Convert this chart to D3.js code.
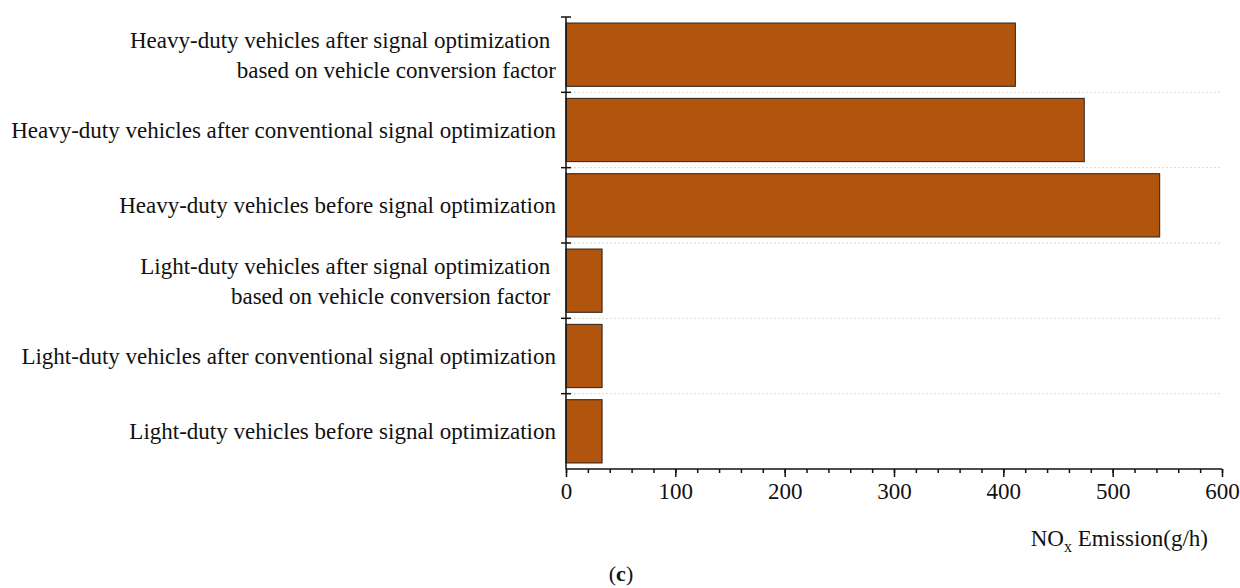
<!DOCTYPE html>
<html><head><meta charset="utf-8">
<script src="https://cdn.jsdelivr.net/npm/d3@7"></script>
<style>
body{margin:0;background:#fff;}
</style></head>
<body><svg id="c" width="1240" height="588"></svg>
<script>
const categories = [
  ["Heavy-duty vehicles after signal optimization ", "based on vehicle conversion factor"],
  ["Heavy-duty vehicles after conventional signal optimization"],
  ["Heavy-duty vehicles before signal optimization"],
  ["Light-duty vehicles after signal optimization ", "based on vehicle conversion factor "],
  ["Light-duty vehicles after conventional signal optimization"],
  ["Light-duty vehicles before signal optimization"]
];
const values = [411, 474, 543, 33, 33, 33];
const xTicks = [0, 100, 200, 300, 400, 500, 600];

const FONT = '"Liberation Serif", "Times New Roman", serif';
const svg = d3.select("#c").attr("font-family", FONT);
const m = {left: 566, right: 1222, top: 17, bottom: 469};
const x = d3.scaleLinear().domain([0, 600]).range([m.left, m.right]);
const keys = categories.map((d, i) => i);
const y = d3.scaleBand().domain(keys).range([m.top, m.bottom]).paddingInner(0.16).paddingOuter(0.08);

const bounds = d3.range(1, categories.length).map(i => m.top + i * (m.bottom - m.top) / categories.length);
svg.append("g").selectAll("line").data(bounds).join("line")
  .attr("x1", m.left).attr("x2", m.right).attr("y1", d => d).attr("y2", d => d)
  .attr("stroke", "#d8d8d8").attr("stroke-width", 1).attr("stroke-dasharray", "2,2");

svg.append("g").selectAll("rect").data(values).join("rect")
  .attr("x", x(0)).attr("y", (d, i) => y(i))
  .attr("width", d => x(d) - x(0)).attr("height", y.bandwidth())
  .attr("fill", "#b0540e").attr("stroke", "#2a2018").attr("stroke-width", 1);

const xa = svg.append("g").attr("transform", `translate(0,${m.bottom})`);
xa.call(d3.axisBottom(x).tickValues(d3.range(0, 601, 20)).tickSize(4).tickFormat(""))
  .call(g => g.select(".domain").remove());
xa.selectAll(".tick line").attr("stroke", "#111").attr("stroke-width", 1.5);
const xb = svg.append("g").attr("transform", `translate(0,${m.bottom})`);
xb.call(d3.axisBottom(x).tickValues(xTicks).tickSize(8).tickPadding(6).tickFormat(d3.format("d")));
xb.attr("font-family", FONT).attr("font-size", 23);
xb.select(".domain").attr("stroke", "#111").attr("stroke-width", 1.5).attr("d", `M${m.left},0H${m.right}`);
xb.selectAll(".tick line").attr("stroke", "#111").attr("stroke-width", 1.5);
xb.selectAll(".tick text").attr("fill", "#111");

svg.append("line").attr("x1", m.left).attr("x2", m.left).attr("y1", m.top).attr("y2", m.bottom)
  .attr("stroke", "#111").attr("stroke-width", 1.5);
const yTicks = [m.top].concat(bounds);
svg.append("g").selectAll("line").data(yTicks).join("line")
  .attr("x1", m.left - 5).attr("x2", m.left + 5).attr("y1", d => d).attr("y2", d => d)
  .attr("stroke", "#111").attr("stroke-width", 1.5);

const lab = svg.append("g").attr("font-size", 23).attr("fill", "#111");
categories.forEach((lines, i) => {
  const cy = y(i) + y.bandwidth() / 2;
  const lh = 30;
  lines.forEach((t, j) => {
    lab.append("text")
      .attr("x", m.left - 10)
      .attr("y", cy + (j - (lines.length - 1) / 2) * lh)
      .attr("dy", "0.35em")
      .attr("text-anchor", "end")
      .style("white-space", "pre")
      .text(t);
  });
});

const title = svg.append("text").attr("x", 1208).attr("y", 546).attr("text-anchor", "end")
  .attr("font-size", 23).attr("fill", "#111");
title.append("tspan").text("NO");
title.append("tspan").attr("font-size", 16).attr("dy", 6).text("x");
title.append("tspan").attr("dy", -6).text(" Emission(g/h)");

const cap = svg.append("text").attr("x", 621).attr("y", 581).attr("text-anchor", "middle")
  .attr("font-size", 22).attr("fill", "#111");
cap.append("tspan").text("(");
cap.append("tspan").attr("font-weight", "bold").text("c");
cap.append("tspan").text(")");
</script></body></html>
